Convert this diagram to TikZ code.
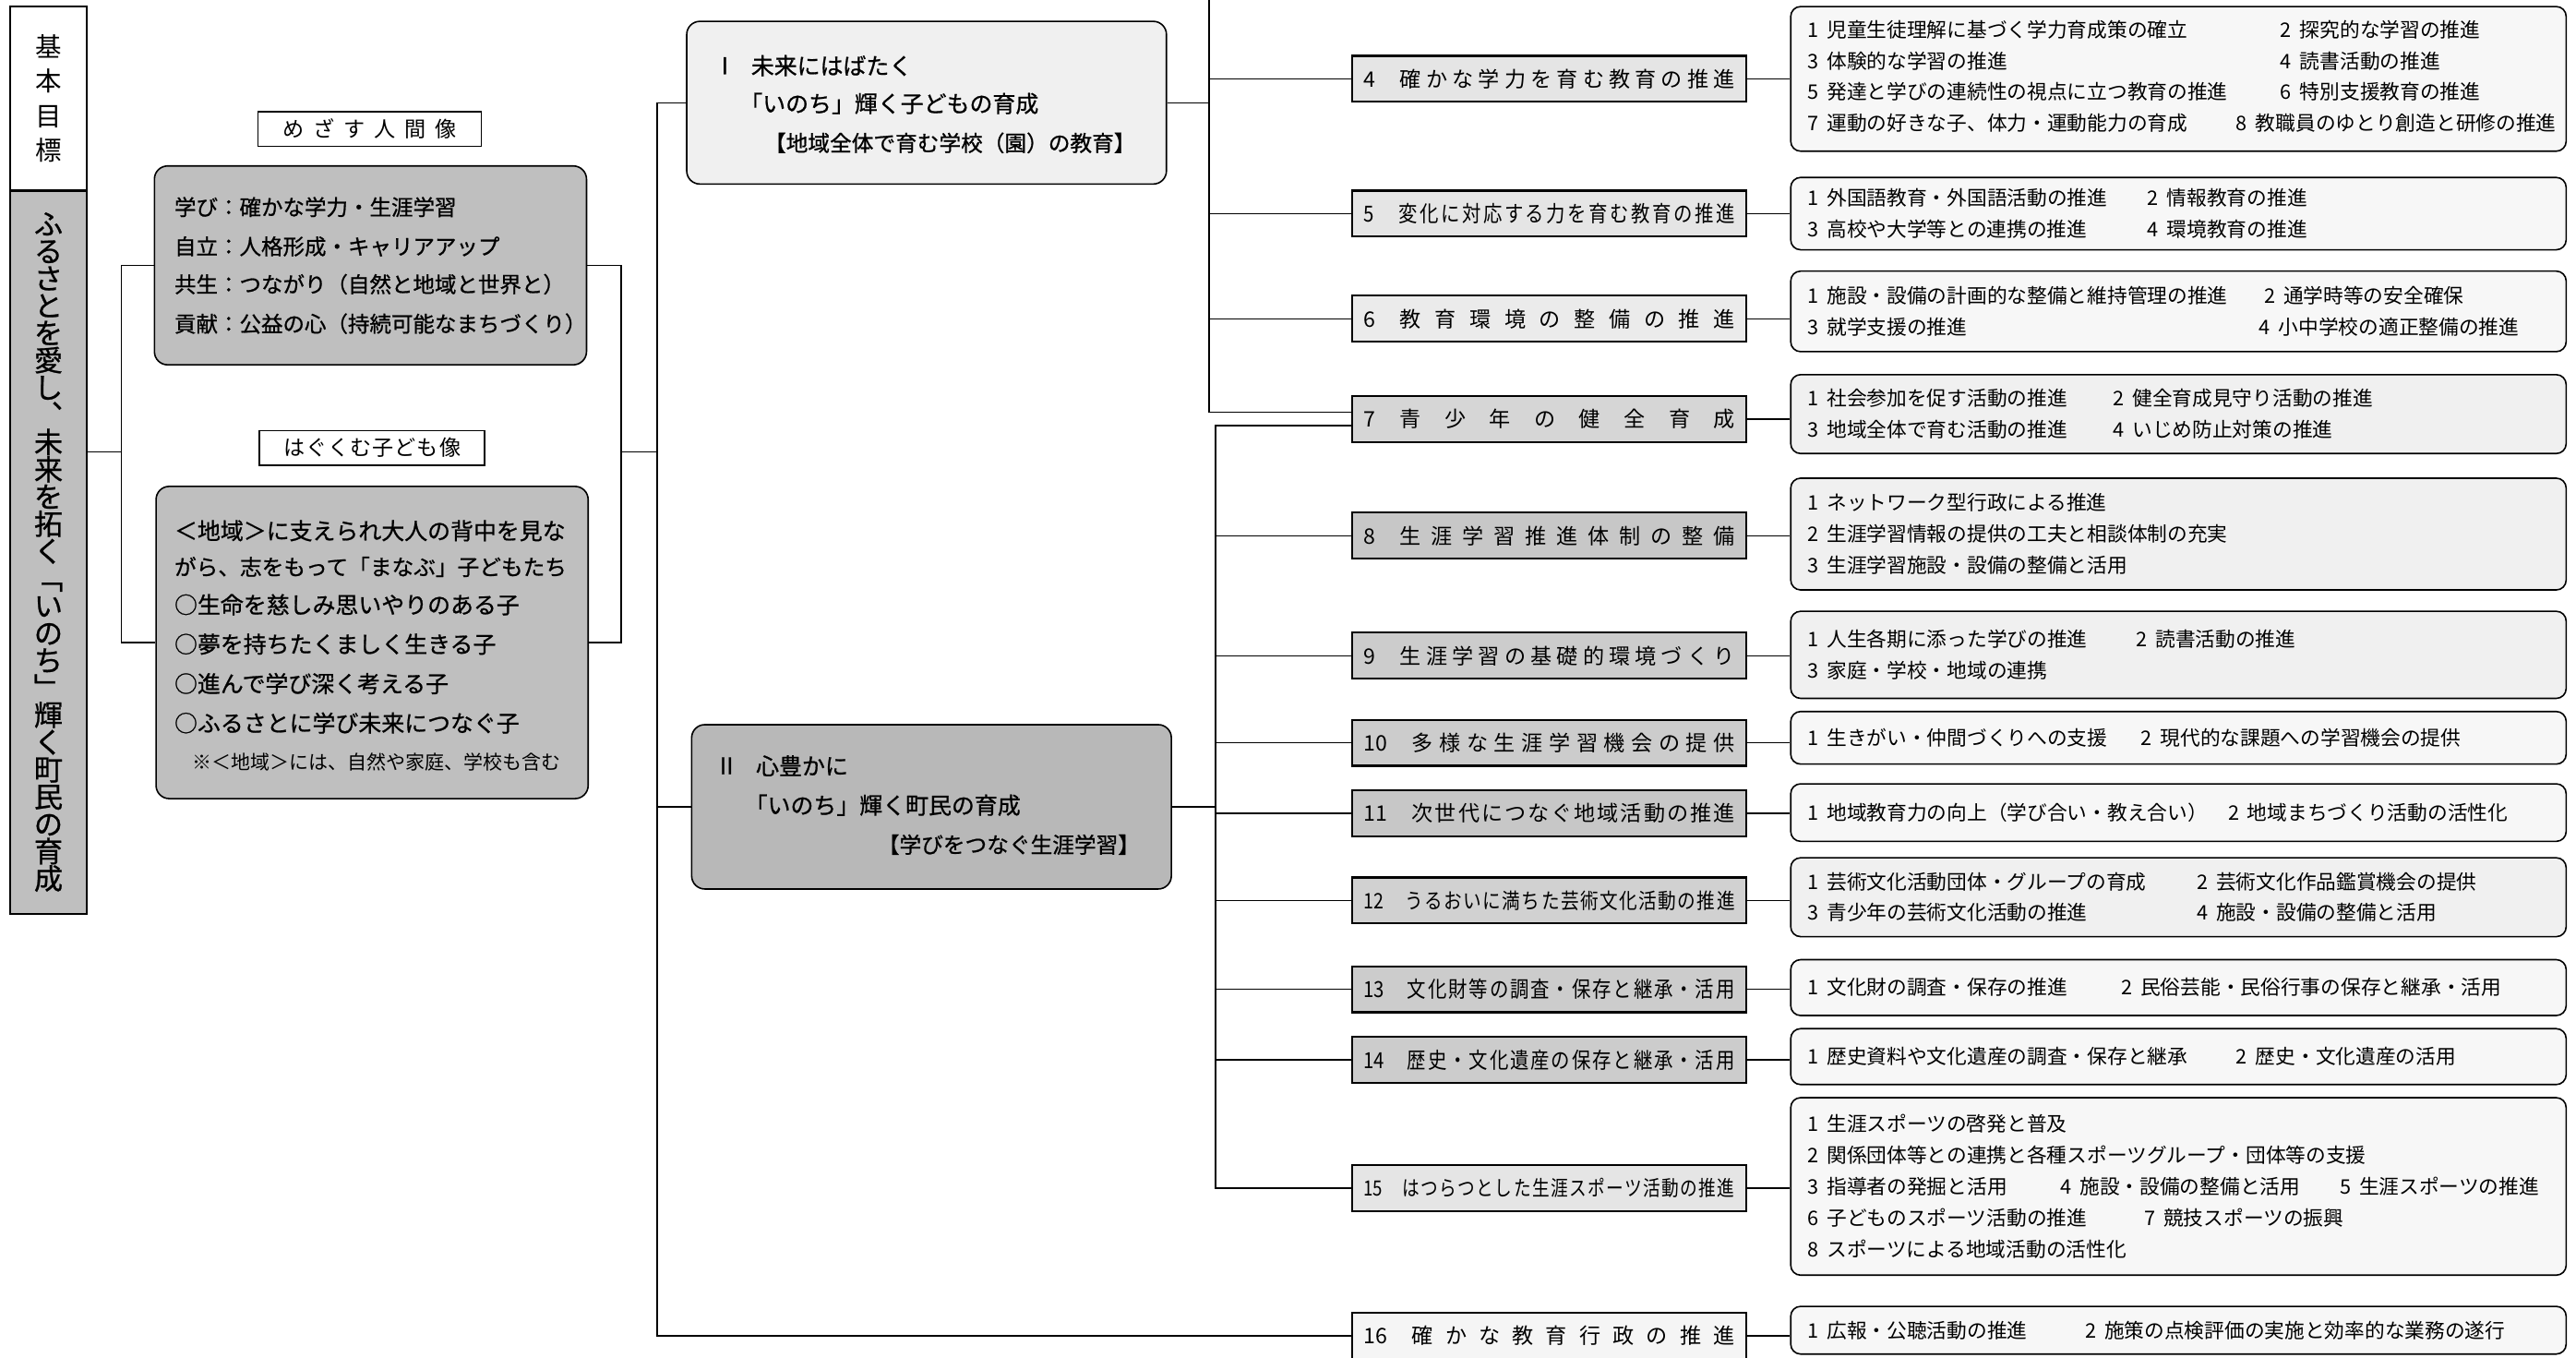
\documentclass[tikz,border=0pt]{standalone}
\usepackage{fontspec}
\setmainfont{Noto Sans CJK JP}
\newfontfamily\gb{Noto Sans CJK JP}[FakeBold=0.8]
\newfontfamily\cnd{Noto Sans CJK JP}[FakeStretch=0.85]
\newfontfamily\cndb{Noto Sans CJK JP}[FakeStretch=0.82]
\usetikzlibrary{calc}
\makeatletter
\def\sprd#1{\sprd@#1\@nil}
\def\sprd@#1#2\@nil{#1\ifx\relax#2\relax\else\hfill\sprd@#2\@nil\fi}
\makeatother
\newcommand\itx[3]{\hbox to 226pt{#1\hspace{#2}\sprd{#3}}}
\newcommand\dline[5]{\node[dtx] (#1) at (#2,#3) {#4\hspace{5pt}#5};}
\begin{document}
\begin{tikzpicture}[x=1pt,y=-1pt,
  ln/.style={line width=0.8pt},
  ibox/.style={draw, line width=1.2pt, minimum width=240pt, minimum height=28pt, inner sep=0pt},
  dbox/.style={draw, line width=0.9pt, rounded corners=6pt, fill=black!3, minimum width=472pt, inner sep=0pt},
  dtx/.style={anchor=west, inner sep=0pt, font=\fontsize{12.2}{12.2}\selectfont},
  ctx/.style={anchor=west, inner sep=0pt, font=\gb\fontsize{14}{14}\selectfont},
  vtx/.style={align=center, inner sep=0pt},
  lbox/.style={draw, line width=0.9pt, fill=white, minimum height=21pt, inner sep=0pt, font=\fontsize{13}{13}\selectfont},
  cbox/.style={draw, line width=0.9pt, rounded corners=8pt, fill=black!25, inner sep=0pt}
]
\useasboundingbox (0,0) rectangle (1568,826);
\fill[white] (0,0) rectangle (1568,826);

% ---------- left column ----------
\node[draw, line width=1.2pt, fill=white, minimum width=47pt, minimum height=112pt, inner sep=0pt] (colT) at (29.5,60) {};
\node[draw, line width=1.2pt, fill=black!25, minimum width=47pt, minimum height=440pt, inner sep=0pt] (colB) at (29.5,336) {};
\node[vtx, font=\fontsize{16}{21}\selectfont] (colTt) at (colT.center) {基\\本\\目\\標};
\node[vtx, font=\gb\fontsize{17.5}{16.6}\selectfont] (colBt) at (colB.center)
 {ふ\\る\\さ\\と\\を\\愛\\し\\︑\\未\\来\\を\\拓\\く\\﹁\\い\\の\\ち\\﹂\\輝\\く\\町\\民\\の\\育\\成};

% ---------- human image boxes ----------
\node[lbox, minimum width=136pt] (lA) at (225,78.5) {\hbox to 106pt{\sprd{めざす人間像}}};
\node[cbox, minimum width=263pt, minimum height=121pt] (cA) at (225.5,161.5) {};
\node[ctx, font=\gb\fontsize{13.2}{13.2}\selectfont] (cA1) at (106,126) {学び：確かな学力・生涯学習};
\node[ctx, font=\gb\fontsize{13.2}{13.2}\selectfont] (cA2) at (106,150) {自立：人格形成・キャリアアップ};
\node[ctx, font=\gb\fontsize{13.2}{13.2}\selectfont] (cA3) at (106,173) {共生：つながり（自然と地域と世界と）};
\node[ctx, font=\gb\fontsize{13.2}{13.2}\selectfont] (cA4) at (106,197) {貢献：公益の心（持続可能なまちづくり）};

\node[lbox, minimum width=137pt] (lB) at (226.5,272.5) {\hbox to 108pt{\sprd{はぐくむ子ども像}}};
\node[cbox, minimum width=263pt, minimum height=190pt] (cB) at (226.5,391) {};
\node[ctx] (cB1) at (106,323) {＜地域＞に支えられ大人の背中を見な};
\node[ctx, font=\gb\fontsize{13.3}{13.3}\selectfont] (cB2) at (106,345) {がら、志をもって「まなぶ」子どもたち};
\node[ctx] (cB3) at (106,368) {○生命を慈しみ思いやりのある子};
\node[ctx] (cB4) at (106,392) {○夢を持ちたくましく生きる子};
\node[ctx] (cB5) at (106,416) {○進んで学び深く考える子};
\node[ctx] (cB6) at (106,440) {○ふるさとに学び未来につなぐ子};
\node[ctx, font=\fontsize{11.8}{11.8}\selectfont] (cB7) at (117,464) {※＜地域＞には、自然や家庭、学校も含む};

% ---------- policy boxes I / II ----------
\node[draw, line width=0.9pt, rounded corners=8pt, fill=black!6, minimum width=292pt, minimum height=99pt, inner sep=0pt] (bI) at (564,62.5) {};
\node[ctx] (bI0) at (434,40) {Ⅰ};
\node[ctx] (bI1) at (457,40) {未来にはばたく};
\node[ctx] (bI2) at (450,63) {「いのち」輝く子どもの育成};
\node[ctx, font=\gb\fontsize{13.3}{13.3}\selectfont] (bI3) at (465,87) {【地域全体で育む学校（園）の教育】};

\node[draw, line width=0.9pt, rounded corners=8pt, fill=black!28, minimum width=292pt, minimum height=100pt, inner sep=0pt] (bII) at (567,491) {};
\node[ctx] (bII0) at (435,466) {Ⅱ};
\node[ctx] (bII1) at (460,466) {心豊かに};
\node[ctx] (bII2) at (453,490) {「いのち」輝く町民の育成};
\node[ctx, anchor=east, font=\gb\fontsize{13.3}{13.3}\selectfont] (bII3) at (694,514) {【学びをつなぐ生涯学習】};

% ---------- items ----------
\node[ibox, fill=black!10, font=\fontsize{13}{13}\selectfont] (i4) at (943,48) {\itx{4}{15pt}{確かな学力を育む教育の推進}};
\node[ibox, fill=black!10, font=\cnd\fontsize{13.5}{13.5}\selectfont] (i5) at (943,130) {\itx{5}{15pt}{変化に対応する力を育む教育の推進}};
\node[ibox, fill=black!8, font=\fontsize{13}{13}\selectfont] (i6) at (943,194) {\itx{6}{15pt}{教育環境の整備の推進}};
\node[ibox, fill=black!16, font=\fontsize{13}{13}\selectfont] (i7) at (943,255) {\itx{7}{15pt}{青少年の健全育成}};
\node[ibox, fill=black!22, font=\fontsize{13}{13}\selectfont] (i8) at (943,326) {\itx{8}{15pt}{生涯学習推進体制の整備}};
\node[ibox, fill=black!20, font=\fontsize{13}{13}\selectfont] (i9) at (943,399) {\itx{9}{15pt}{生涯学習の基礎的環境づくり}};
\node[ibox, fill=black!20, font=\fontsize{13}{13}\selectfont] (i10) at (943,452) {\itx{10}{15pt}{多様な生涯学習機会の提供}};
\node[ibox, fill=black!22, font=\fontsize{13}{13}\selectfont] (i11) at (943,495) {\itx{11}{15pt}{次世代につなぐ地域活動の推進}};
\node[ibox, fill=black!18, font=\cnd\fontsize{13}{13}\selectfont] (i12) at (943,548) {\itx{12}{13pt}{うるおいに満ちた芸術文化活動の推進}};
\node[ibox, fill=black!20, font=\cnd\fontsize{13.5}{13.5}\selectfont] (i13) at (943,602) {\itx{13}{14pt}{文化財等の調査・保存と継承・活用}};
\node[ibox, fill=black!20, font=\cnd\fontsize{13.5}{13.5}\selectfont] (i14) at (943,645) {\itx{14}{14pt}{歴史・文化遺産の保存と継承・活用}};
\node[ibox, fill=black!10, font=\cndb\fontsize{12.8}{12.8}\selectfont] (i15) at (943,723) {\itx{15}{12pt}{はつらつとした生涯スポーツ活動の推進}};
\node[ibox, fill=black!4, font=\fontsize{13}{13}\selectfont] (i16) at (943,813) {\itx{16}{15pt}{確かな教育行政の推進}};

% ---------- detail boxes ----------
\node[dbox, minimum height=88pt] (d4) at (1326,48) {};
\node[dbox, minimum height=44pt] (d5) at (1326,130) {};
\node[dbox, minimum height=49pt] (d6) at (1326,189.5) {};
\node[dbox, minimum height=48pt, fill=black!6] (d7) at (1326,252) {};
\node[dbox, minimum height=68pt, fill=black!6] (d8) at (1326,325) {};
\node[dbox, minimum height=53pt, fill=black!6] (d9) at (1326,398.5) {};
\node[dbox, minimum height=32pt] (d10) at (1326,449) {};
\node[dbox, minimum height=35pt] (d11) at (1326,494.5) {};
\node[dbox, minimum height=48pt, fill=black!6] (d12) at (1326,546) {};
\node[dbox, minimum height=34pt] (d13) at (1326,601) {};
\node[dbox, minimum height=34pt] (d14) at (1326,643) {};
\node[dbox, minimum height=108pt] (d15) at (1326,722) {};
\node[dbox, minimum height=29pt] (d16) at (1326,809.5) {};

\dline{t4a}{1100}{18}{1}{児童生徒理解に基づく学力育成策の確立}
\dline{t4b}{1388}{18}{2}{探究的な学習の推進}
\dline{t4c}{1100}{37}{3}{体験的な学習の推進}
\dline{t4d}{1388}{37}{4}{読書活動の推進}
\dline{t4e}{1100}{56}{5}{発達と学びの連続性の視点に立つ教育の推進}
\dline{t4f}{1388}{56}{6}{特別支援教育の推進}
\dline{t4g}{1100}{75}{7}{運動の好きな子、体力・運動能力の育成}
\dline{t4h}{1361}{75}{8}{教職員のゆとり創造と研修の推進}

\dline{t5a}{1100}{120.5}{1}{外国語教育・外国語活動の推進}
\dline{t5b}{1307}{120.5}{2}{情報教育の推進}
\dline{t5c}{1100}{139.5}{3}{高校や大学等との連携の推進}
\dline{t5d}{1307}{139.5}{4}{環境教育の推進}

\dline{t6a}{1100}{180}{1}{施設・設備の計画的な整備と維持管理の推進}
\dline{t6b}{1378}{180}{2}{通学時等の安全確保}
\dline{t6c}{1100}{199}{3}{就学支援の推進}
\dline{t6d}{1375}{199}{4}{小中学校の適正整備の推進}

\dline{t7a}{1100}{242.5}{1}{社会参加を促す活動の推進}
\dline{t7b}{1286}{242.5}{2}{健全育成見守り活動の推進}
\dline{t7c}{1100}{261.5}{3}{地域全体で育む活動の推進}
\dline{t7d}{1286}{261.5}{4}{いじめ防止対策の推進}

\dline{t8a}{1100}{306}{1}{ネットワーク型行政による推進}
\dline{t8b}{1100}{325}{2}{生涯学習情報の提供の工夫と相談体制の充実}
\dline{t8c}{1100}{344}{3}{生涯学習施設・設備の整備と活用}

\dline{t9a}{1100}{389}{1}{人生各期に添った学びの推進}
\dline{t9b}{1300}{389}{2}{読書活動の推進}
\dline{t9c}{1100}{408}{3}{家庭・学校・地域の連携}

\dline{t10a}{1100}{449}{1}{生きがい・仲間づくりへの支援}
\dline{t10b}{1303}{449}{2}{現代的な課題への学習機会の提供}

\dline{t11a}{1100}{494.5}{1}{地域教育力の向上（学び合い・教え合い）}
\dline{t11b}{1356}{494.5}{2}{地域まちづくり活動の活性化}

\dline{t12a}{1100}{536.5}{1}{芸術文化活動団体・グループの育成}
\dline{t12b}{1337}{536.5}{2}{芸術文化作品鑑賞機会の提供}
\dline{t12c}{1100}{555.5}{3}{青少年の芸術文化活動の推進}
\dline{t12d}{1337}{555.5}{4}{施設・設備の整備と活用}

\dline{t13a}{1100}{601}{1}{文化財の調査・保存の推進}
\dline{t13b}{1291}{601}{2}{民俗芸能・民俗行事の保存と継承・活用}

\dline{t14a}{1100}{643}{1}{歴史資料や文化遺産の調査・保存と継承}
\dline{t14b}{1361}{643}{2}{歴史・文化遺産の活用}

\dline{t15a}{1100}{684}{1}{生涯スポーツの啓発と普及}
\dline{t15b}{1100}{703}{2}{関係団体等との連携と各種スポーツグループ・団体等の支援}
\dline{t15c}{1100}{722}{3}{指導者の発掘と活用}
\dline{t15d}{1254}{722}{4}{施設・設備の整備と活用}
\dline{t15e}{1424}{722}{5}{生涯スポーツの推進}
\dline{t15f}{1100}{741}{6}{子どものスポーツ活動の推進}
\dline{t15g}{1305}{741}{7}{競技スポーツの振興}
\dline{t15h}{1100}{760}{8}{スポーツによる地域活動の活性化}

\dline{t16a}{1100}{809.5}{1}{広報・公聴活動の推進}
\dline{t16b}{1269}{809.5}{2}{施策の点検評価の実施と効率的な業務の遂行}

% ---------- connectors ----------
\coordinate (jL) at (74,275);
\coordinate (jR) at (378,275);
\coordinate (mv) at (400,0);
\coordinate (g1) at (736,0);
\coordinate (g2) at (740,0);
\coordinate (i7a) at ($(i7.west)+(0,-4)$);
\coordinate (i7b) at ($(i7.west)+(0,4)$);

\draw[ln] (colB.east |- jL) -- (jL);
\draw[ln] (cA.west) -| (jL) |- (cB.west);
\draw[ln] (cA.east) -| (jR) |- (cB.east);
\draw[ln] (jR) -- (jR -| mv);
\draw[ln] (bI.west) -- (bI.west -| mv) |- (i16.west);
\draw[ln] (bII.west) -- (bII.west -| mv);

\draw[ln] (bI.east) -- (bI.east -| g1);
\draw[ln] (g1) |- (i7a);
\foreach \k in {4,5,6} \draw[ln] (g1 |- i\k.west) -- (i\k.west);

\draw[ln] (bII.east) -- (bII.east -| g2);
\draw[ln] (i7b) -- (i7b -| g2) -- (g2 |- i15.west) -- (i15.west);
\foreach \k in {8,9,10,11,12,13,14} \draw[ln] (g2 |- i\k.west) -- (i\k.west);

\foreach \k in {4,5,6,7,8,9,10,11,12,13,14,15,16} \draw[ln] (i\k.east) -- (i\k.east -| d\k.west);
\end{tikzpicture}
\end{document}
